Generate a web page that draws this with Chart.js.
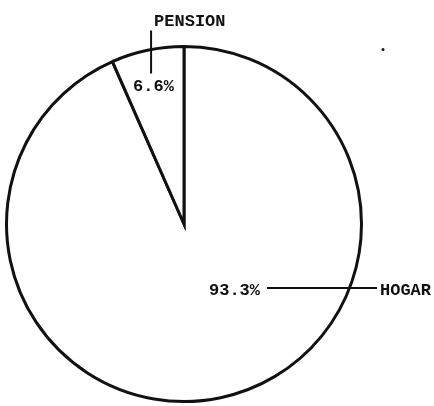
<!DOCTYPE html>
<html>
<head>
<meta charset="utf-8">
<script src="https://cdn.jsdelivr.net/npm/chart.js@4/dist/chart.umd.min.js"></script>
<style>
    html, body { margin: 0; padding: 0; background: #fff; }
    #wrap { position: relative; width: 434px; height: 406px; }
</style>
</head>
<body>
<div id="wrap"><canvas id="chart"></canvas></div>
<script>
const categories = ['HOGAR', 'PENSION'];
const shares = [93.3, 6.6];
const shareLabels = ['93.3%', '6.6%'];

const FONT = 'bold 17px "Liberation Mono", "DejaVu Sans Mono", monospace';

// draws the typewriter style labels and leader lines
const labelPlugin = {
    id: 'labels',
    afterDatasetsDraw(chart) {
        const ctx = chart.ctx;
        const arcs = chart.getDatasetMeta(0).data;
        const cx = arcs[0].x;
        const cy = arcs[0].y;
        const r = arcs[0].outerRadius;

        ctx.save();
        ctx.fillStyle = '#111';
        ctx.strokeStyle = '#111';
        ctx.font = FONT;
        ctx.textBaseline = 'alphabetic';

        // PENSION: label above circle, leader down into the slice
        const p = arcs[1];
        const mid = (p.startAngle + p.endAngle) / 2;
        const lx = cx + Math.cos(mid) * r * 0.9;
        ctx.lineWidth = 2;
        ctx.beginPath();
        ctx.moveTo(lx, cy - r - 16);
        ctx.lineTo(lx, cy - r + 27);
        ctx.stroke();
        ctx.textAlign = 'left';
        ctx.fillText(categories[1], lx + 3, cy - r - 21);
        ctx.fillText(shareLabels[1], lx - 18, cy - r + 44);

        // HOGAR: value inside, line crossing the edge, name outside
        const hy = cy + r * 0.36;
        ctx.fillText(shareLabels[0], cx + 25, hy + 7);
        ctx.beginPath();
        ctx.moveTo(cx + 83, hy);
        ctx.lineTo(cx + 193, hy);
        ctx.stroke();
        ctx.fillText(categories[0], cx + 196, hy + 7);

        // stray mark on the scan
        ctx.beginPath();
        ctx.arc(cx + 199, cy - r + 3, 1.5, 0, Math.PI * 2);
        ctx.fill();
        ctx.restore();
    }
};

new Chart(document.getElementById('chart'), {
    type: 'pie',
    data: {
        labels: categories,
        datasets: [{
            data: shares,
            backgroundColor: '#fff',
            borderColor: '#111',
            borderWidth: 3,
            borderJoinStyle: 'miter'
        }]
    },
    options: {
        responsive: true,
        maintainAspectRatio: false,
        animation: false,
        layout: { padding: { left: 5, top: 44, right: 71, bottom: 2 } },
        plugins: {
            legend: { display: false },
            tooltip: { enabled: false }
        }
    },
    plugins: [labelPlugin]
});
</script>
</body>
</html>
